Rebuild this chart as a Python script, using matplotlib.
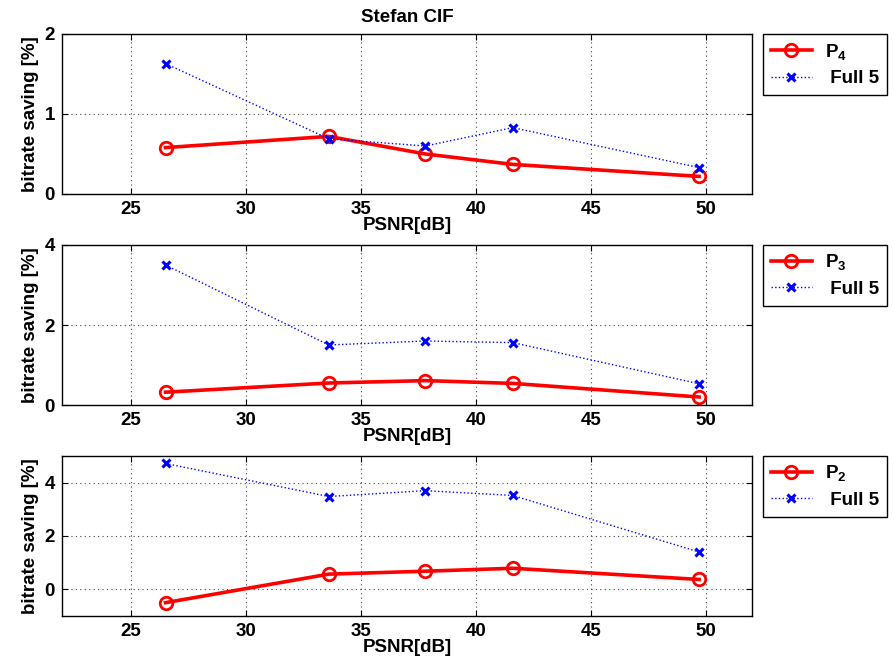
import matplotlib.pyplot as plt

plt.rcParams['font.family'] = ['Liberation Sans', 'DejaVu Sans']
plt.rcParams['font.weight'] = 'bold'
plt.rcParams['mathtext.fontset'] = 'custom'
plt.rcParams['mathtext.rm'] = 'Liberation Sans:bold'
plt.rcParams['mathtext.default'] = 'rm'

psnr = [26.5, 33.6, 37.8, 41.6, 49.7]

p4 = [0.58, 0.72, 0.50, 0.37, 0.22]
full5_a = [1.63, 0.69, 0.60, 0.83, 0.33]
p3 = [0.32, 0.55, 0.61, 0.54, 0.20]
full5_b = [3.50, 1.50, 1.60, 1.56, 0.53]
p2 = [-0.50, 0.57, 0.68, 0.79, 0.37]
full5_c = [4.72, 3.48, 3.70, 3.52, 1.40]

panels = [
    (p4, full5_a, 'P$_4$', (0, 2), [0, 1, 2]),
    (p3, full5_b, 'P$_3$', (0, 4), [0, 2, 4]),
    (p2, full5_c, 'P$_2$', (-1, 5), [0, 2, 4]),
]

fs = 13.5
fig = plt.figure(figsize=(8.95, 6.7), dpi=100)
tops = [34, 245, 456]
for i, (pv, fv, lab, ylim, yt) in enumerate(panels):
    top = tops[i]
    ax = fig.add_axes([62 / 895, 1 - (top + 160) / 670, 690 / 895, 160 / 670])
    ax.plot(psnr, pv, '-o', color='red', lw=2.6, ms=9, mfc='none', mew=2, label=lab)
    ax.plot(psnr, fv, ':x', color='blue', lw=1.0, ms=6, mew=2.2, label=' Full 5')
    ax.set_xlim(22, 52)
    ax.set_ylim(*ylim)
    ax.set_xticks([25, 30, 35, 40, 45, 50])
    ax.set_yticks(yt)
    ax.grid(True, ls=(0, (1, 3)), color='#444444', lw=0.8)
    ax.tick_params(direction='in', labelsize=fs, length=4, top=True, right=True, pad=5)
    ax.set_xlabel('PSNR[dB]', fontsize=fs, fontweight='bold', labelpad=-1)
    ax.set_ylabel('bitrate saving [%]', fontsize=fs, fontweight='bold', labelpad=4)
    for s in ax.spines.values():
        s.set_linewidth(1.0)
    if i == 0:
        ax.set_title('Stefan CIF', fontsize=fs, fontweight='bold', pad=9)
    leg = ax.legend(loc='upper left', bbox_to_anchor=(1.016, 1.0), fontsize=fs,
                    fancybox=False, edgecolor='black', framealpha=1,
                    handlelength=2.2, handletextpad=0.7, borderaxespad=0,
                    labelspacing=0.45, borderpad=0.4)
    leg.get_frame().set_linewidth(1.0)

fig.savefig('out.png', dpi=100)
